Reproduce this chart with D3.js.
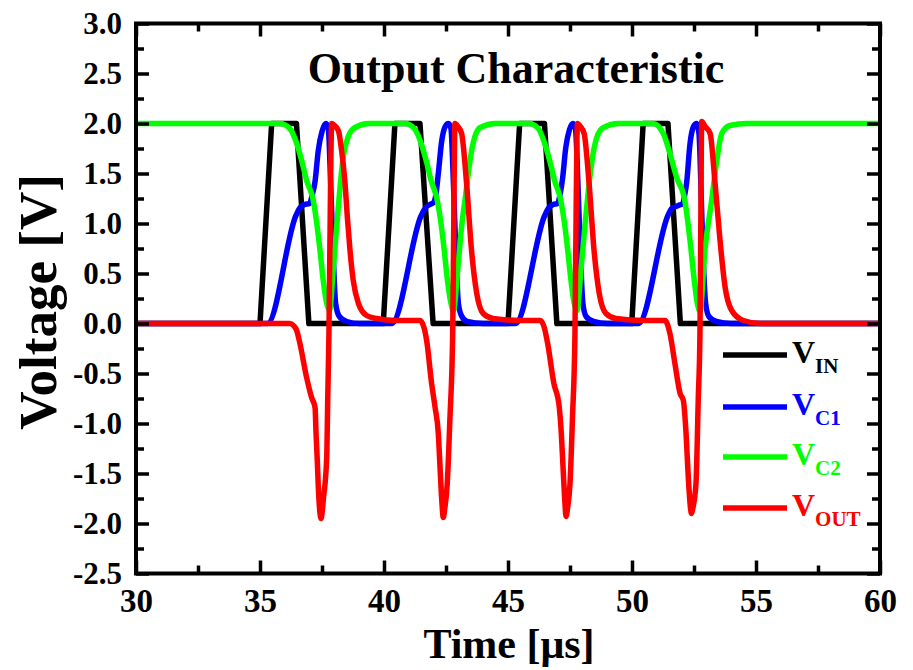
<!DOCTYPE html>
<html>
<head>
<meta charset="utf-8">
<script src="https://cdn.jsdelivr.net/npm/d3@7"></script>
<style>
  html, body { margin: 0; padding: 0; background: #fff; }
  svg { display: block; }
  text { font-family: "Liberation Serif", "Times New Roman", serif; font-weight: bold; }
</style>
</head>
<body>
<svg id="chart" width="913" height="670"></svg>
<script>
// ---------- data ----------
const xTicks = [30, 35, 40, 45, 50, 55, 60];
const xMinorTicks = [32.5, 37.5, 42.5, 47.5, 52.5, 57.5];
const yTicks = [-2.5, -2.0, -1.5, -1.0, -0.5, 0.0, 0.5, 1.0, 1.5, 2.0, 2.5, 3.0];
const yMinorTicks = [-2.25, -1.75, -1.25, -0.75, -0.25, 0.25, 0.75, 1.25, 1.75, 2.25, 2.75];
const titleText = "Output Characteristic";
const xTitle = "Time [\u03bcs]";
const yTitle = "Voltage [V]";
const seriesSubs = ["IN", "C1", "C2", "OUT"];

const vIn = [
  [30, 0], [35.0, 0], [35.47, 2], [36.47, 2], [36.97, 0],
  [39.97, 0], [40.44, 2], [41.45, 2], [41.98, 0],
  [45.0, 0], [45.47, 2], [46.47, 2], [46.97, 0],
  [49.99, 0], [50.45, 2], [51.45, 2], [51.95, 0], [60, 0]
];

const vC1 = [
  [30, 0], [35.3, 0], [36.45, 1.08], [36.62, 1.16], [36.8, 1.19], [37.0, 1.2], [37.1, 1.28], [37.22, 1.42],
  [37.35, 1.73], [37.5, 1.92], [37.65, 2.0], [37.75, 1.96], [37.85, 1.4], [37.95, 0.7], [38.05, 0.2],
  [38.2, 0.07], [38.5, 0.02], [39.0, 0],
  [40.31, 0], [41.5, 1.08], [41.68, 1.16], [41.85, 1.19], [42.0, 1.21], [42.1, 1.3], [42.19, 1.5],
  [42.33, 1.83], [42.47, 1.97], [42.6, 2.0], [42.7, 1.95], [42.8, 1.4], [42.9, 0.7], [43.0, 0.2],
  [43.12, 0.08], [43.35, 0.02], [44.0, 0],
  [45.3, 0], [46.48, 1.08], [46.65, 1.16], [46.82, 1.19], [47.0, 1.2], [47.1, 1.29], [47.2, 1.45],
  [47.33, 1.76], [47.48, 1.94], [47.62, 2.0], [47.72, 1.95], [47.82, 1.4], [47.92, 0.7], [48.02, 0.2],
  [48.15, 0.07], [48.45, 0.02], [49.0, 0],
  [50.26, 0], [51.45, 1.08], [51.6, 1.15], [51.87, 1.18], [52.05, 1.2], [52.12, 1.28], [52.2, 1.4],
  [52.34, 1.8], [52.48, 1.97], [52.6, 2.0], [52.7, 1.9], [52.8, 1.2], [52.88, 0.6], [52.97, 0.2],
  [53.1, 0.07], [53.4, 0.02], [54.0, 0], [60, 0]
];

const vC2 = [
  [30, 2], [35.8, 2], [36.2, 1.95], [36.48, 1.8], [36.68, 1.63], [36.88, 1.43], [37.15, 1.23], [37.29, 1.0],
  [37.42, 0.73], [37.55, 0.43], [37.69, 0.2], [37.8, 0.13], [37.96, 0.56], [38.09, 0.97], [38.23, 1.37],
  [38.36, 1.67], [38.56, 1.87], [38.83, 1.96], [39.4, 2.0],
  [40.85, 2], [41.22, 1.95], [41.5, 1.8], [41.7, 1.63], [41.9, 1.43], [42.15, 1.23], [42.3, 1.0],
  [42.43, 0.73], [42.56, 0.43], [42.7, 0.2], [42.8, 0.13], [42.98, 0.56], [43.13, 0.97], [43.3, 1.3],
  [43.45, 1.6], [43.62, 1.83], [43.88, 1.96], [44.5, 2.0],
  [45.85, 2], [46.22, 1.95], [46.48, 1.8], [46.68, 1.63], [46.88, 1.43], [47.13, 1.23], [47.28, 1.0],
  [47.41, 0.73], [47.54, 0.43], [47.67, 0.2], [47.78, 0.13], [47.95, 0.56], [48.1, 0.97], [48.25, 1.35],
  [48.4, 1.65], [48.58, 1.86], [48.85, 1.96], [49.45, 2.0],
  [50.85, 2], [51.26, 1.9], [51.53, 1.7], [51.8, 1.46], [52.13, 1.23], [52.34, 0.83], [52.54, 0.37],
  [52.65, 0.18], [52.74, 0.12], [52.94, 0.73], [53.21, 1.23], [53.42, 1.63], [53.62, 1.9], [53.95, 1.98],
  [54.62, 2.0], [60, 2]
];

const vOut = [
  [30, 0], [36.2, 0], [36.35, -0.02], [36.48, -0.07], [36.61, -0.2], [36.88, -0.54], [37.08, -0.74],
  [37.22, -0.84], [37.26, -1.1], [37.31, -1.37], [37.35, -1.63], [37.42, -1.9], [37.46, -1.95], [37.5, -1.9],
  [37.55, -1.77], [37.69, -1.34], [37.73, -0.77], [37.78, -0.1], [37.85, 1.5], [37.89, 2.0], [38.0, 1.98],
  [38.16, 1.93], [38.29, 1.73], [38.43, 1.4], [38.52, 1.07], [38.63, 0.73], [38.76, 0.43], [38.97, 0.2],
  [39.3, 0.08], [39.7, 0.05], [40.5, 0.03],
  [41.45, 0.03], [41.6, -0.03], [41.72, -0.17], [41.92, -0.6], [42.06, -0.84], [42.19, -1.1], [42.26, -1.44],
  [42.33, -1.77], [42.39, -1.94], [42.45, -1.85], [42.55, -1.6], [42.66, -0.94], [42.77, -0.1], [42.82, 1.2],
  [42.86, 2.0], [42.98, 1.97], [43.13, 1.9], [43.33, 1.4], [43.53, 0.73], [43.74, 0.3], [44.0, 0.1],
  [44.4, 0.05], [45.5, 0.03],
  [46.3, 0.03], [46.45, -0.03], [46.6, -0.2], [46.85, -0.6], [47.05, -0.8], [47.15, -1.1], [47.22, -1.44],
  [47.29, -1.77], [47.34, -1.93], [47.4, -1.85], [47.5, -1.6], [47.6, -0.94], [47.7, -0.1], [47.75, 1.2],
  [47.8, 2.0], [47.92, 1.97], [48.07, 1.9], [48.27, 1.4], [48.47, 0.73], [48.68, 0.3], [48.95, 0.1],
  [49.35, 0.05], [50.5, 0.03],
  [51.33, 0.03], [51.53, -0.1], [51.73, -0.4], [51.94, -0.7], [52.07, -0.77], [52.18, -1.1], [52.27, -1.54],
  [52.36, -1.85], [52.4, -1.9], [52.45, -1.85], [52.58, -1.6], [52.67, -0.77], [52.74, -0.1], [52.78, 1.2],
  [52.81, 2.02], [52.95, 1.97], [53.15, 1.9], [53.35, 1.4], [53.55, 0.83], [53.75, 0.37], [54.02, 0.13],
  [54.49, 0.03], [55.16, 0], [60, 0]
];

// ---------- layout ----------
const svg = d3.select("#chart");
const L = 136, R = 880, T = 23.5, B = 573.5;
const x = d3.scaleLinear().domain([30, 60]).range([L, R]);
const y = d3.scaleLinear().domain([-2.5, 3.0]).range([B, T]);

const colors = ["#000000", "#0000ff", "#00ff00", "#ff0000"];
const series = [vIn, vC1, vC2, vOut];

svg.append("defs").append("clipPath").attr("id", "clip")
  .append("rect").attr("x", L).attr("y", T).attr("width", R - L).attr("height", B - T);

const plot = svg.append("g").attr("clip-path", "url(#clip)");
series.forEach((s, i) => {
  const line = d3.line()
    .x(d => x(d[0])).y(d => y(d[1]))
    .curve(i === 0 ? d3.curveLinear : d3.curveMonotoneX);
  plot.append("path").datum(s)
    .attr("d", line)
    .attr("fill", "none")
    .attr("stroke", colors[i])
    .attr("stroke-width", 5.5)
    .attr("stroke-linejoin", "round");
});

// ---------- axes ----------
function styleAxis(g) {
  g.select(".domain").remove();
  g.selectAll(".tick line").attr("stroke", "#000").attr("stroke-width", 3.5);
  g.selectAll(".tick text").attr("fill", "#000").attr("font-family", "Liberation Serif, serif").attr("font-weight", "bold");
}
const fmt = d => d.toFixed(1);

svg.append("g").attr("transform", `translate(0,${B})`)
  .call(d3.axisBottom(x).tickValues(xTicks).tickSize(-13).tickSizeOuter(0).tickPadding(15).tickFormat(d3.format("d")))
  .call(styleAxis).call(g => g.selectAll(".tick text").attr("font-size", 33));
svg.append("g").attr("transform", `translate(0,${B})`)
  .call(d3.axisBottom(x).tickValues(xMinorTicks).tickSize(-8).tickSizeOuter(0).tickFormat(""))
  .call(styleAxis);
svg.append("g").attr("transform", `translate(0,${T})`)
  .call(d3.axisTop(x).tickValues(xTicks).tickSize(-13).tickSizeOuter(0).tickFormat(""))
  .call(styleAxis);
svg.append("g").attr("transform", `translate(0,${T})`)
  .call(d3.axisTop(x).tickValues(xMinorTicks).tickSize(-8).tickSizeOuter(0).tickFormat(""))
  .call(styleAxis);

svg.append("g").attr("transform", `translate(${L},0)`)
  .call(d3.axisLeft(y).tickValues(yTicks).tickSize(-13).tickSizeOuter(0).tickPadding(14).tickFormat(fmt))
  .call(styleAxis).call(g => g.selectAll(".tick text").attr("font-size", 31));
svg.append("g").attr("transform", `translate(${L},0)`)
  .call(d3.axisLeft(y).tickValues(yMinorTicks).tickSize(-8).tickSizeOuter(0).tickFormat(""))
  .call(styleAxis);
svg.append("g").attr("transform", `translate(${R},0)`)
  .call(d3.axisRight(y).tickValues(yTicks).tickSize(-13).tickSizeOuter(0).tickFormat(""))
  .call(styleAxis);
svg.append("g").attr("transform", `translate(${R},0)`)
  .call(d3.axisRight(y).tickValues(yMinorTicks).tickSize(-8).tickSizeOuter(0).tickFormat(""))
  .call(styleAxis);

svg.append("rect").attr("x", L).attr("y", T).attr("width", R - L).attr("height", B - T)
  .attr("fill", "none").attr("stroke", "#000").attr("stroke-width", 4);

// ---------- titles ----------
svg.append("text").attr("x", 516).attr("y", 83).attr("text-anchor", "middle")
  .attr("font-size", 44).attr("fill", "#000").text(titleText);
svg.append("text").attr("x", 509).attr("y", 658).attr("text-anchor", "middle")
  .attr("font-size", 42).attr("fill", "#000").text(xTitle);
svg.append("text").attr("transform", "translate(56,302) rotate(-90)").attr("text-anchor", "middle")
  .attr("font-size", 53).attr("fill", "#000").text(yTitle);

// ---------- legend ----------
const legY = [355, 407, 457, 508];
const leg = svg.append("g");
seriesSubs.forEach((sub, i) => {
  leg.append("line").attr("x1", 723).attr("x2", 787).attr("y1", legY[i]).attr("y2", legY[i])
    .attr("stroke", colors[i]).attr("stroke-width", 5.5);
  const t = leg.append("text").attr("x", 792).attr("y", legY[i] + 8).attr("fill", colors[i])
    .attr("font-size", 32);
  t.append("tspan").text("V");
  t.append("tspan").attr("dy", 10).attr("font-size", 21).text(sub);
});
</script>
</body>
</html>
